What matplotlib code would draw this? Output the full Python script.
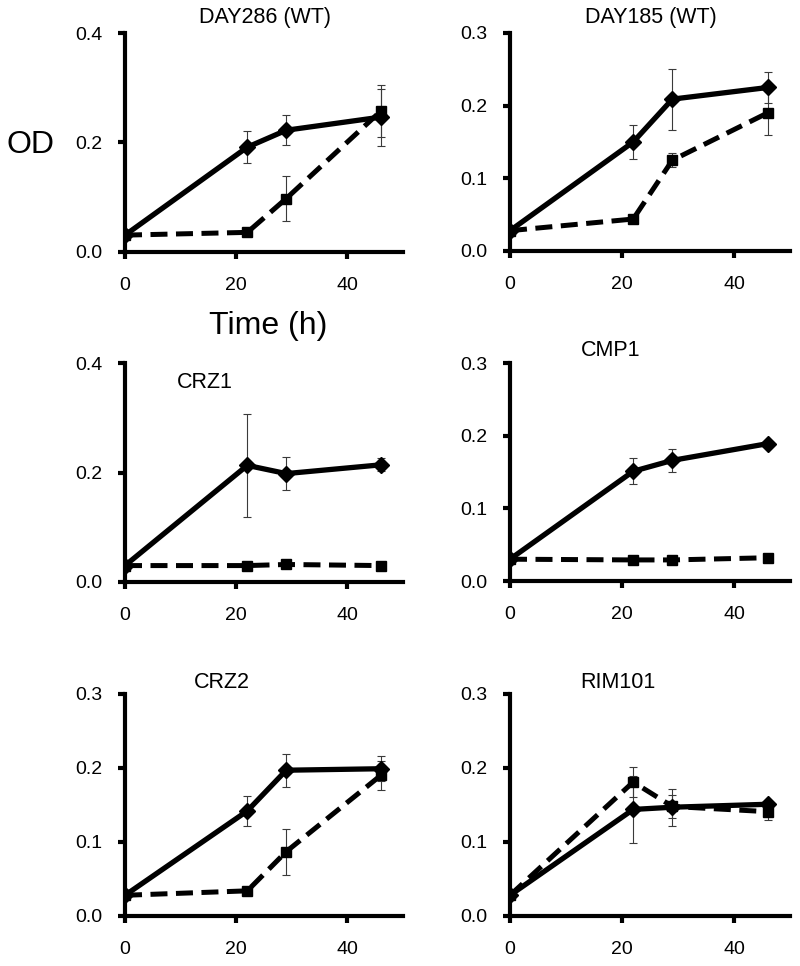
import matplotlib
matplotlib.use("Agg")
import matplotlib.pyplot as plt

plt.rcParams['font.family'] = ['Liberation Sans', 'DejaVu Sans']

# sampling times (h)
time = [0, 22, 29, 46]

# panel names
panels = ['DAY286 (WT)', 'DAY185 (WT)', 'CRZ1', 'CMP1', 'CRZ2', 'RIM101']

# solid line (diamonds): mean OD and error
solid_mean = [
    [0.030, 0.191, 0.222, 0.246],
    [0.028, 0.150, 0.209, 0.225],
    [0.030, 0.213, 0.198, 0.214],
    [0.030, 0.151, 0.166, 0.189],
    [0.028, 0.142, 0.197, 0.199],
    [0.028, 0.144, 0.147, 0.151],
]
solid_err = [
    [0.0, 0.029, 0.027, 0.052],
    [0.0, 0.023, 0.042, 0.021],
    [0.0, 0.094, 0.030, 0.012],
    [0.0, 0.018, 0.016, 0.003],
    [0.0, 0.020, 0.022, 0.017],
    [0.0, 0.045, 0.025, 0.005],
]

# dashed line (squares): mean OD and error
dashed_mean = [
    [0.030, 0.035, 0.097, 0.257],
    [0.028, 0.044, 0.125, 0.190],
    [0.030, 0.030, 0.032, 0.030],
    [0.030, 0.029, 0.029, 0.032],
    [0.028, 0.034, 0.087, 0.190],
    [0.028, 0.181, 0.148, 0.141],
]
dashed_err = [
    [0.0, 0.003, 0.041, 0.048],
    [0.0, 0.002, 0.010, 0.030],
    [0.0, 0.002, 0.002, 0.002],
    [0.0, 0.002, 0.002, 0.002],
    [0.0, 0.002, 0.031, 0.020],
    [0.0, 0.020, 0.015, 0.011],
]

y_max = [0.4, 0.3, 0.4, 0.3, 0.3, 0.3]
y_step = [0.2, 0.1, 0.2, 0.1, 0.1, 0.1]

W, H = 800, 966
fig = plt.figure(figsize=(W / 100, H / 100), dpi=100)

# axes boxes in pixels: left, right, top, bottom
boxes = [
    (125, 403, 33, 251.5),
    (510, 790, 33, 251),
    (125, 403, 363, 582),
    (510, 790, 363, 581),
    (125, 403, 694, 916),
    (510, 790, 694, 916),
]
# title centres in pixels
title_pos = [(265, 18), (651, 18), (205, 382), (611, 350), (222, 683), (618, 683)]

for i in range(6):
    l, r, t, b = boxes[i]
    ax = fig.add_axes([l / W, 1 - b / H, (r - l) / W, (b - t) / H])

    ax.errorbar(time, solid_mean[i], yerr=solid_err[i], fmt='none',
                ecolor='#3a3a3a', elinewidth=0.8, capsize=3, capthick=0.8, zorder=1)
    ax.errorbar(time, dashed_mean[i], yerr=dashed_err[i], fmt='none',
                ecolor='#3a3a3a', elinewidth=0.8, capsize=3, capthick=0.8, zorder=1)
    ax.plot(time, dashed_mean[i], color='black', lw=3.6, dashes=(3.4, 1.7),
            marker='s', ms=7, zorder=3)
    ax.plot(time, solid_mean[i], color='black', lw=3.8,
            marker='D', ms=8, zorder=4)

    ax.set_xlim(0, 50)
    ax.set_ylim(0, y_max[i])
    ax.set_xticks([0, 20, 40])
    n = int(round(y_max[i] / y_step[i]))
    ax.set_yticks([k * y_step[i] for k in range(n + 1)])
    ax.yaxis.set_major_formatter(matplotlib.ticker.FormatStrFormatter('%.1f'))

    for s in ['top', 'right']:
        ax.spines[s].set_visible(False)
    for s in ['left', 'bottom']:
        ax.spines[s].set_linewidth(3)
    ax.tick_params(direction='out', length=5, width=3, labelsize=14)
    ax.tick_params(axis='x', pad=13)
    ax.tick_params(axis='y', pad=11)

    tx, ty = title_pos[i]
    fig.text(tx / W, 1 - ty / H, panels[i], ha='center', va='center', fontsize=15.5)

fig.text(31 / W, 1 - 145 / H, 'OD', ha='center', va='center', fontsize=23)
fig.text(268 / W, 1 - 326 / H, 'Time (h)', ha='center', va='center', fontsize=23)

fig.savefig('out.png', dpi=100)
